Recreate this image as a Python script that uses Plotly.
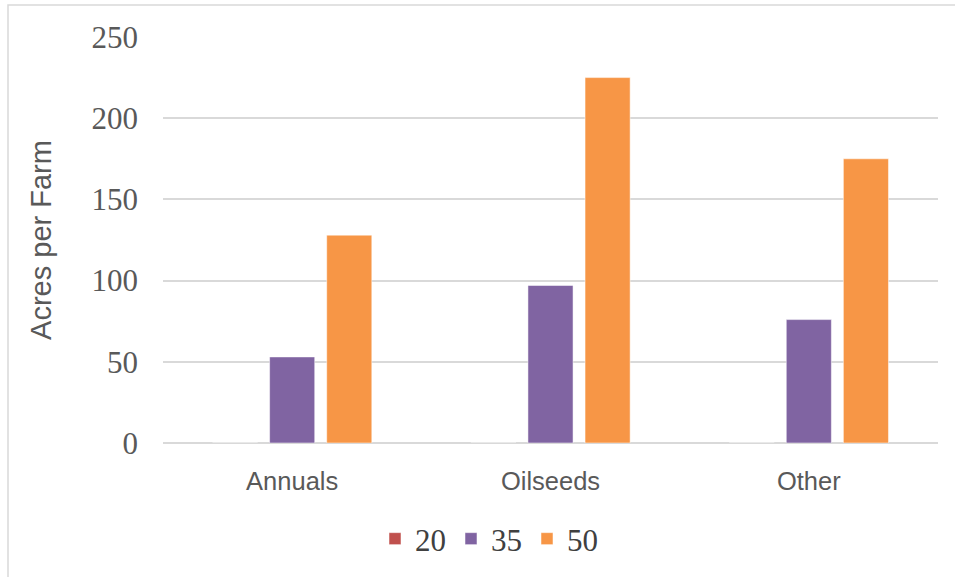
import plotly.graph_objects as go

categories = ["Annuals", "Oilseeds", "Other"]
series_names = ["20", "35", "50"]
values_20 = [0, 0, 0]
values_35 = [53, 97, 76]
values_50 = [128, 225, 175]
colors = ["#C0504D", "#8064A2", "#F79646"]
y_ticks = [0, 50, 100, 150, 200, 250]

fig = go.Figure()
for name, vals, col in zip(series_names, [values_20, values_35, values_50], colors):
    fig.add_trace(go.Bar(
        x=categories, y=vals, name=name,
        marker=dict(color=col, line=dict(color="rgba(255,255,255,0.5)", width=1)),
    ))

W, H = 955, 577
L, R, T, B = 163, 17, 37, 134
pw, ph = W - L - R, H - T - B

def px_x(p):
    return (p - L) / pw

def px_y(p):
    return (H - B - p) / ph

fig.update_layout(
    width=W, height=H,
    margin=dict(l=L, r=R, t=T, b=B, autoexpand=False),
    paper_bgcolor="white", plot_bgcolor="white",
    barmode="group", bargap=0.337, bargroupgap=0.21,
    showlegend=True,
    legend=dict(orientation="h", x=px_x(489), xanchor="center", y=px_y(539), yanchor="middle",
                font=dict(family="Liberation Serif", size=31, color="#404040"),
                itemwidth=30, tracegroupgap=0, bgcolor="rgba(0,0,0,0)"),
    xaxis=dict(showgrid=False, showline=False, zeroline=False, ticks="",
               tickfont=dict(family="Liberation Sans", size=25.5, color="#595959"),
               ticklabelstandoff=20),
    yaxis=dict(range=[0, 250], tickvals=y_ticks, showgrid=True, gridcolor="#D9D9D9", gridwidth=1.5,
               zeroline=True, zerolinecolor="#D9D9D9", zerolinewidth=1.5,
               showline=False, ticks="",
               tickfont=dict(family="Liberation Serif", size=31, color="#595959"),
               ticklabelstandoff=24,
               title=dict(text="Acres per Farm", standoff=31,
                          font=dict(family="Liberation Sans", size=29, color="#595959"))),
    shapes=[dict(type="rect", xref="paper", yref="paper",
                 x0=px_x(8), x1=px_x(962), y0=px_y(585), y1=px_y(5),
                 line=dict(color="#D9D9D9", width=1.5), fillcolor="rgba(0,0,0,0)", layer="below")],
)

fig.write_html("out.html", config={"displayModeBar": False},
               post_script="document.body.style.margin='0';")
